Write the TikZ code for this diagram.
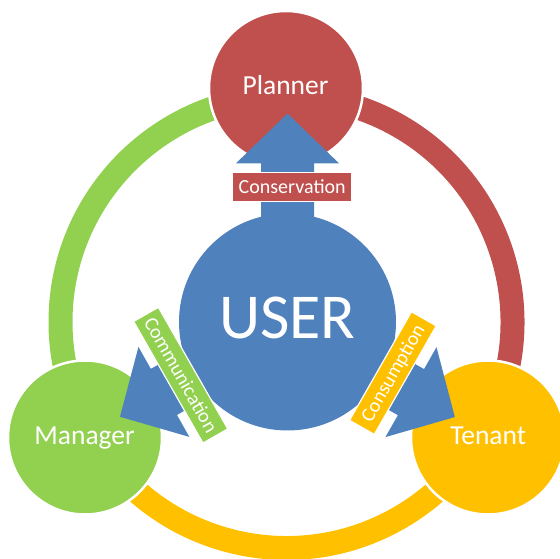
\documentclass[tikz,border=0pt]{standalone}
\usepackage{fontspec}
\setmainfont{Carlito}
\definecolor{cred}{HTML}{C0504D}
\definecolor{cgreen}{HTML}{92D050}
\definecolor{cyellow}{HTML}{FFC000}
\definecolor{ublue}{HTML}{4F81BD}
\newcommand{\blkarrow}[3]{%
  \begin{scope}[shift={(user.center)}, rotate=#1]
    \fill[ublue] (0,-26.5) -- (#2,-26.5) -- (#2,-51.7) -- (#3,0) -- (#2,51.7) -- (#2,26.5) -- (0,26.5) -- cycle;
  \end{scope}}
\begin{document}
\begin{tikzpicture}[x=1pt,y=1pt,
  circ/.style={circle, draw=white, line width=2.5pt, minimum size=#1, inner sep=0pt},
  ringarc/.style={line width=24pt},
  lbl/.style={rectangle, draw=white, line width=1.2pt, text=white,
    font=\fontsize{20}{20}\selectfont, inner sep=0pt, text height=12.6pt, text depth=0pt},
  big/.style={text=white, font=\fontsize{27.5}{28}\selectfont, inner sep=0pt, anchor=base}
]
\useasboundingbox (0,0) rectangle (560,559);
\clip (0,0) rectangle (560,559);
% ring
\coordinate (rc) at (286.5,237);
\draw[ringarc, cgreen] (rc) ++(90:226) arc[start angle=90, end angle=210, radius=226];
\draw[ringarc, cyellow] (rc) ++(210:226) arc[start angle=210, end angle=330, radius=226];
\draw[ringarc, cred] (rc) ++(-30:226) arc[start angle=-30, end angle=90, radius=226];
% outer circles
\node[circ=154, fill=cred] (planner) at (286,471) {};
\node[circ=154, fill=cgreen] (manager) at (85,121.5) {};
\node[circ=154, fill=cyellow] (tenant) at (488,121.5) {};
% user
\node[circle, fill=ublue, minimum size=217, inner sep=0pt] (user) at (287.5,237) {};
% block arrows
\blkarrow{90}{158.5}{208.4}
\blkarrow{209.5}{142}{192.5}
\blkarrow{330.4}{142}{192.5}
% labels
\node[lbl, fill=cred, minimum width=119, minimum height=29] (lcons) at (292.2,371.8) {Conservation};
\node[lbl, fill=cgreen, minimum width=140, minimum height=28.5, rotate=-60.3] (lcomm) at (180.7,183.8) {Communication};
\node[lbl, fill=cyellow, minimum width=125, minimum height=28.5, rotate=60.3] (lcsm) at (392.9,185.9) {Consumption};
% texts
\node[big] (tplanner) at (285.5,464.7) {Planner};
\node[big] (tmanager) at (84.6,114) {Manager};
\node[big] (ttenant) at (488.2,114) {Tenant};
\node[big, font=\fontsize{64}{64}\selectfont] (tuser) at (287.5,220.2) {USER};
\end{tikzpicture}
\end{document}
